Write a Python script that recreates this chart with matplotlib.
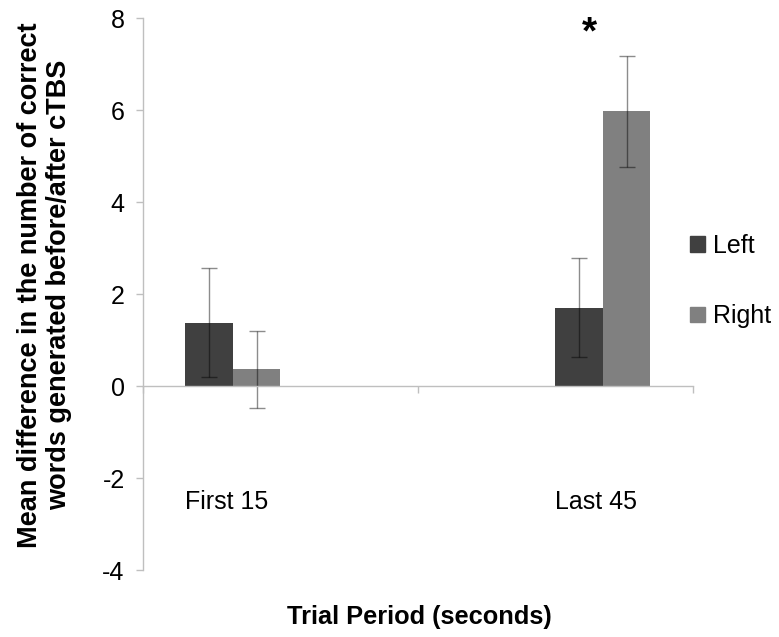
import matplotlib
matplotlib.use("Agg")
import matplotlib.pyplot as plt
from matplotlib.patches import Patch

plt.rcParams['font.family'] = ['Liberation Sans', 'DejaVu Sans']
plt.rcParams['axes.unicode_minus'] = False

# ---- data ----
categories = ["First 15", "Last 45"]
series_names = ["Left", "Right"]
left_means = [1.38, 1.70]
right_means = [0.36, 5.97]
left_err = [1.18, 1.08]
right_err = [0.83, 1.21]
y_ticks = [-4, -2, 0, 2, 4, 6, 8]
star_label = "*"

# ---- style / layout ----
colors = ["#404040", "#808080"]
W = 779 / 100
H = 637 / 100
fig = plt.figure(figsize=(W, H), dpi=100)
ax = fig.add_axes([0.1832, 0.10518, 0.7064, 0.86656])

w = 0.1725
cat_centers = [0.5, 1.5]
left_slot = [-1.5, 0.5]
right_slot = [-0.5, 1.5]
left_x = [c + s * w for c, s in zip(cat_centers, left_slot)]
right_x = [c + s * w for c, s in zip(cat_centers, right_slot)]

err_kw = dict(ecolor=(0, 0, 0, 0.45), elinewidth=1.0, capsize=5.5, capthick=1.0)
ax.bar(left_x, left_means, width=w, color=colors[0], yerr=left_err,
       error_kw=err_kw, label=series_names[0], zorder=2)
ax.bar(right_x, right_means, width=w, color=colors[1], yerr=right_err,
       error_kw=err_kw, label=series_names[1], zorder=2)

ax.set_xlim(0, 2)
ax.set_ylim(-4, 8)
ax.set_yticks(y_ticks)
ax.set_yticklabels([str(t) for t in y_ticks], fontsize=18)
ax.set_xticks([0, 1, 2])
ax.set_xticklabels([])

spine_c = "#bfbfbf"
for s in ["top", "right"]:
    ax.spines[s].set_visible(False)
ax.spines["left"].set_color(spine_c)
ax.spines["bottom"].set_color(spine_c)
ax.spines["bottom"].set_position(("data", 0))
ax.spines["left"].set_linewidth(1.0)
ax.spines["bottom"].set_linewidth(1.0)
ax.tick_params(axis="y", direction="out", length=5, width=1.0, color=spine_c, pad=8)
ax.tick_params(axis="x", direction="out", length=5, width=1.0, color=spine_c)

# category labels
for x, lab in zip(left_x, categories):
    ax.text(x - w / 2, -2.52, lab, ha="left", va="center", fontsize=18)

# significance star
ax.text(1.624, 7.66, star_label, ha="center", va="center", fontsize=28, fontweight="bold")

# axis titles
fig.text(419.5 / 779, 1 - 617 / 637, "Trial Period (seconds)", ha="center", va="center",
         fontsize=18.3, fontweight="bold")
fig.text(45 / 779, 1 - 285 / 637,
         "Mean difference in the number of correct\nwords generated before/after cTBS",
         rotation=90, ha="center", va="center", multialignment="center",
         fontsize=19.5, fontweight="bold", linespacing=1.15)

handles = [Patch(color=c) for c in colors]
fig.legend(handles, series_names, loc="center left",
           bbox_to_anchor=(690 / 779, 1 - 281 / 637), frameon=False, fontsize=18,
           handlelength=0.58, handleheight=0.58, handletextpad=0.35, labelspacing=1.85,
           borderaxespad=0, borderpad=0)

fig.savefig("out.png", dpi=100)
